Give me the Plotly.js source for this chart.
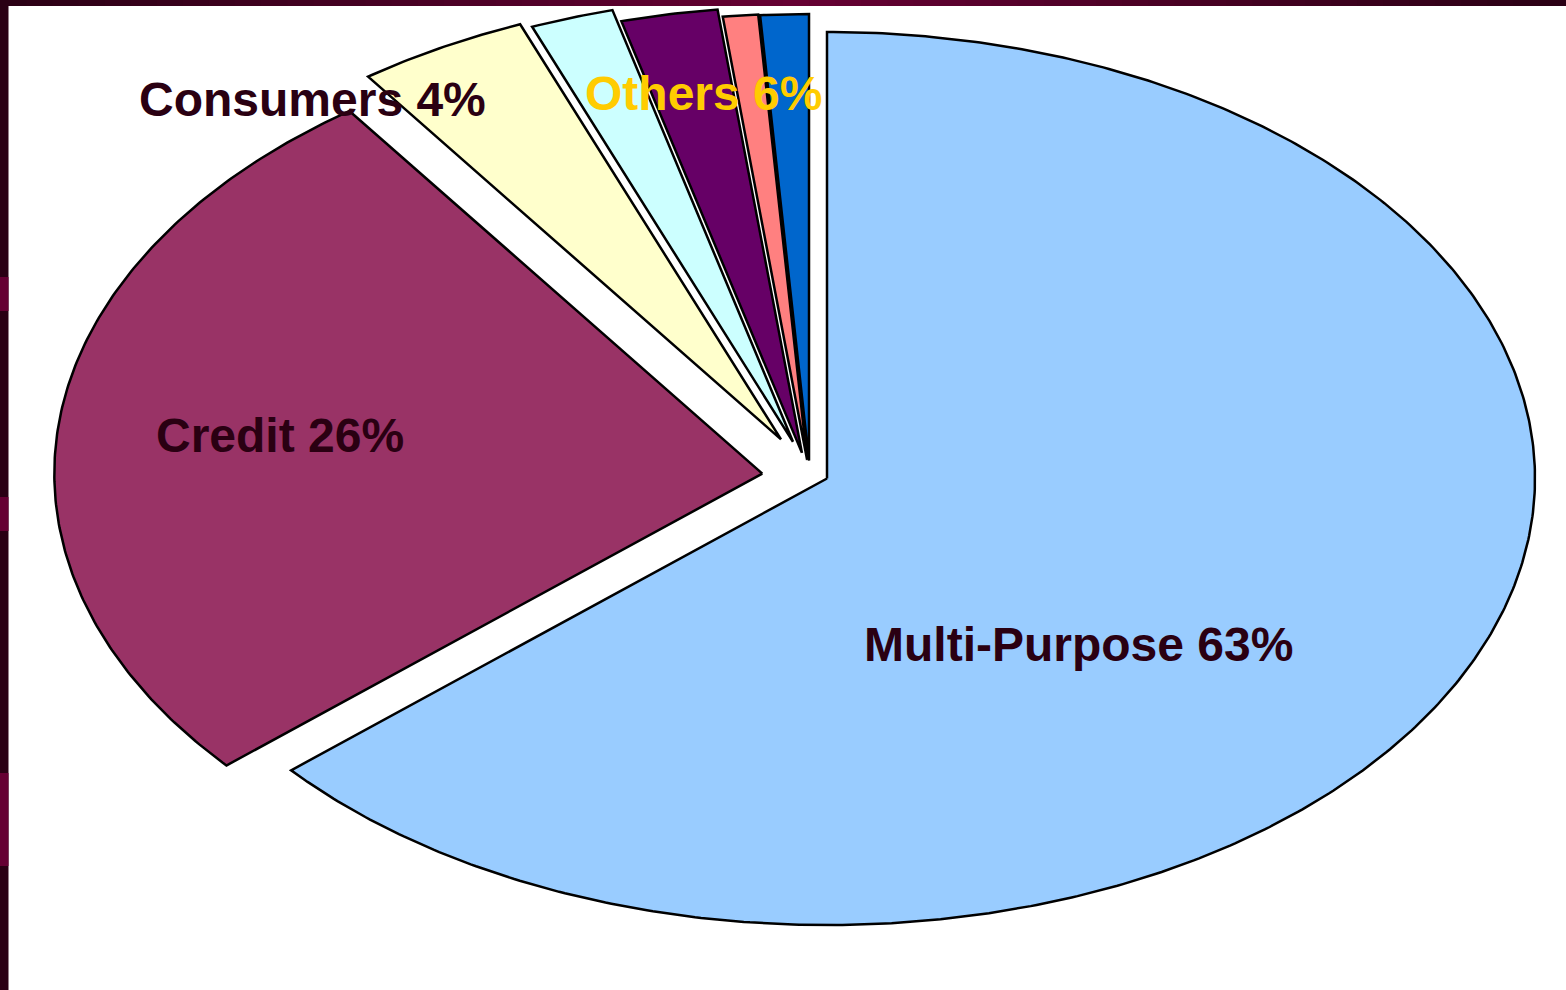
<!DOCTYPE html>
<html>
<head>
<meta charset="utf-8">
<script src="https://cdn.plot.ly/plotly-3.0.1.min.js"></script>
<style>
  html, body { margin: 0; padding: 0; background: #ffffff; }
  #chart { width: 1566px; height: 990px; }
</style>
</head>
<body>
<div id="chart"></div>
<script>
// ---- data ----
const categories = ['Multi-Purpose', 'Credit', 'Consumers', 'Other 1', 'Other 2', 'Other 3', 'Other 4'];
const values = [63.6, 26.4, 3.9, 1.9, 2.2, 0.8, 1.1];
const labelTexts = ['Multi-Purpose 63%', 'Credit 26%', 'Consumers 4%', 'Others 6%'];

// ---- styles ----
const colors = ['#99CCFF', '#993366', '#FFFFCC', '#CCFFFF', '#660066', '#FF8080', '#0066CC'];
const explodeRadial = [0, 0.092, 0.108, 0.093, 0.063, 0.044, 0.041];
const explodeTangential = [0, 0, -0.015, -0.02, -0.024, -0.024, -0.024];
const labelColors = ['#2a0012', '#2a0012', '#2a0012', '#FFCC00'];
const labelPos = [[1078, 644], [280, 436], [312, 100], [703, 93]]; // pixel centres

const W = 1566, H = 990;
const CX = 827, CY = 478.5, RX = 708, RY = 446.5;

const total = values.reduce((a, b) => a + b, 0);
const traces = [];
let cum = 0;
values.forEach((v, i) => {
  const a0 = cum / total * 360;
  const a1 = (cum + v) / total * 360;
  cum += v;
  const mid = (a0 + a1) / 2 * Math.PI / 180;
  const ox = explodeRadial[i] * Math.sin(mid) + explodeTangential[i] * Math.cos(mid);
  const oy = explodeRadial[i] * Math.cos(mid) - explodeTangential[i] * Math.sin(mid);
  const xs = [ox], ys = [oy];
  const n = Math.max(2, Math.ceil((a1 - a0) / 0.5));
  for (let k = 0; k <= n; k++) {
    const t = (a0 + (a1 - a0) * k / n) * Math.PI / 180;
    xs.push(ox + Math.sin(t));
    ys.push(oy + Math.cos(t));
  }
  xs.push(ox); ys.push(oy);
  traces.push({
    type: 'scatter', mode: 'lines', x: xs, y: ys, name: categories[i],
    fill: 'toself', fillcolor: colors[i],
    line: { color: '#000000', width: 2.5 },
    hoverinfo: 'name', showlegend: false
  });
});

// frame (slide border) shapes
const shapes = [];
function mix(c1, c2, t) {
  const r = Math.round(c1[0] + (c2[0] - c1[0]) * t);
  const g = Math.round(c1[1] + (c2[1] - c1[1]) * t);
  const b = Math.round(c1[2] + (c2[2] - c1[2]) * t);
  return `rgb(${r},${g},${b})`;
}
const dark = [42, 0, 20], pink = [102, 0, 51];
const steps = 60;
for (let s = 0; s < steps; s++) {
  const x0 = W * s / steps, x1 = W * (s + 1) / steps + 1;
  const xc = (x0 + x1) / 2;
  let t;
  if (xc < 800) t = Math.min(1, Math.max(0, xc / 800));
  else t = Math.max(0, 1 - (xc - 800) / 766);
  shapes.push({ type: 'rect', xref: 'paper', yref: 'paper', layer: 'above',
    x0: x0 / W, x1: Math.min(x1, W) / W, y0: 1 - 6 / H, y1: 1,
    fillcolor: mix(dark, pink, t), line: { width: 0 } });
}
shapes.push({ type: 'rect', xref: 'paper', yref: 'paper', layer: 'above',
  x0: 0, x1: 8.5 / W, y0: 0, y1: 1, fillcolor: 'rgb(42,0,20)', line: { width: 0 } });
[[277, 311], [497, 531], [773, 866]].forEach(([p0, p1]) => {
  shapes.push({ type: 'rect', xref: 'paper', yref: 'paper', layer: 'above',
    x0: 0, x1: 8.5 / W, y0: 1 - p1 / H, y1: 1 - p0 / H,
    fillcolor: 'rgb(102,0,51)', line: { width: 0 } });
});

const annotations = labelTexts.map((txt, i) => ({
  xref: 'paper', yref: 'paper',
  x: labelPos[i][0] / W, y: 1 - labelPos[i][1] / H,
  xanchor: 'center', yanchor: 'middle', showarrow: false,
  text: '<b>' + txt + '</b>',
  font: { family: 'Liberation Sans, Arial, sans-serif', size: 48, color: labelColors[i] }
}));

const layout = {
  width: W, height: H,
  margin: { l: 0, r: 0, t: 0, b: 0 },
  paper_bgcolor: '#ffffff', plot_bgcolor: '#ffffff',
  xaxis: { range: [-CX / RX, (W - CX) / RX], visible: false, fixedrange: true },
  yaxis: { range: [(CY - H) / RY, CY / RY], visible: false, fixedrange: true },
  shapes: shapes,
  annotations: annotations,
  showlegend: false
};

Plotly.newPlot('chart', traces, layout, { displayModeBar: false, staticPlot: true });
</script>
</body>
</html>
